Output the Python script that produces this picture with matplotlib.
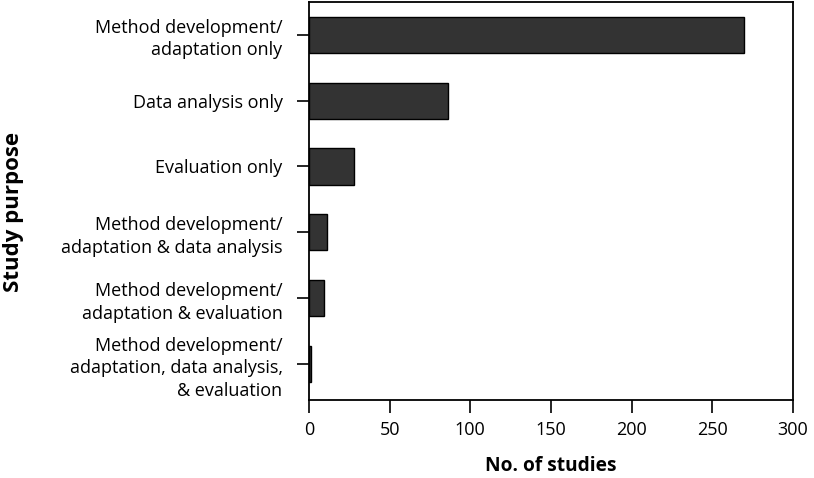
import matplotlib.pyplot as plt

plt.rcParams["font.family"] = ["Open Sans", "DejaVu Sans"]

purposes = [
    "Method development/\nadaptation only",
    "Data analysis only",
    "Evaluation only",
    "Method development/\nadaptation & data analysis",
    "Method development/\nadaptation & evaluation",
    "Method development/\nadaptation, data analysis,\n& evaluation",
]
n_studies = [270, 86, 28, 11, 9, 1]
x_ticks = [0, 50, 100, 150, 200, 250, 300]

fig, ax = plt.subplots(figsize=(8.14, 4.78), dpi=100)
fig.subplots_adjust(left=0.3796, right=0.974, top=0.996, bottom=0.163)

pos = list(range(len(purposes)))
ax.barh(pos, n_studies, height=0.55, color="#333333", edgecolor="black", linewidth=1.0)

ax.set_yticks(pos)
ax.set_yticklabels(purposes, fontsize=13, linespacing=1.33)
ax.set_ylim(len(purposes) - 0.45, -0.5)
ax.set_xlim(0, 300)
ax.set_xticks(x_ticks)
ax.tick_params(axis="x", labelsize=13, length=9, width=1.2, pad=6)
ax.tick_params(axis="y", length=9, width=1.2, pad=10)

for sp in ax.spines.values():
    sp.set_linewidth(1.3)

ax.set_xlabel("No. of studies", fontsize=13.8, fontweight="bold")
ax.xaxis.set_label_coords(0.5, -0.14)
ax.set_ylabel("Study purpose", fontsize=16, fontweight="bold")
ax.yaxis.set_label_coords(-0.59, 0.472)

fig.savefig("out.png", dpi=100)
